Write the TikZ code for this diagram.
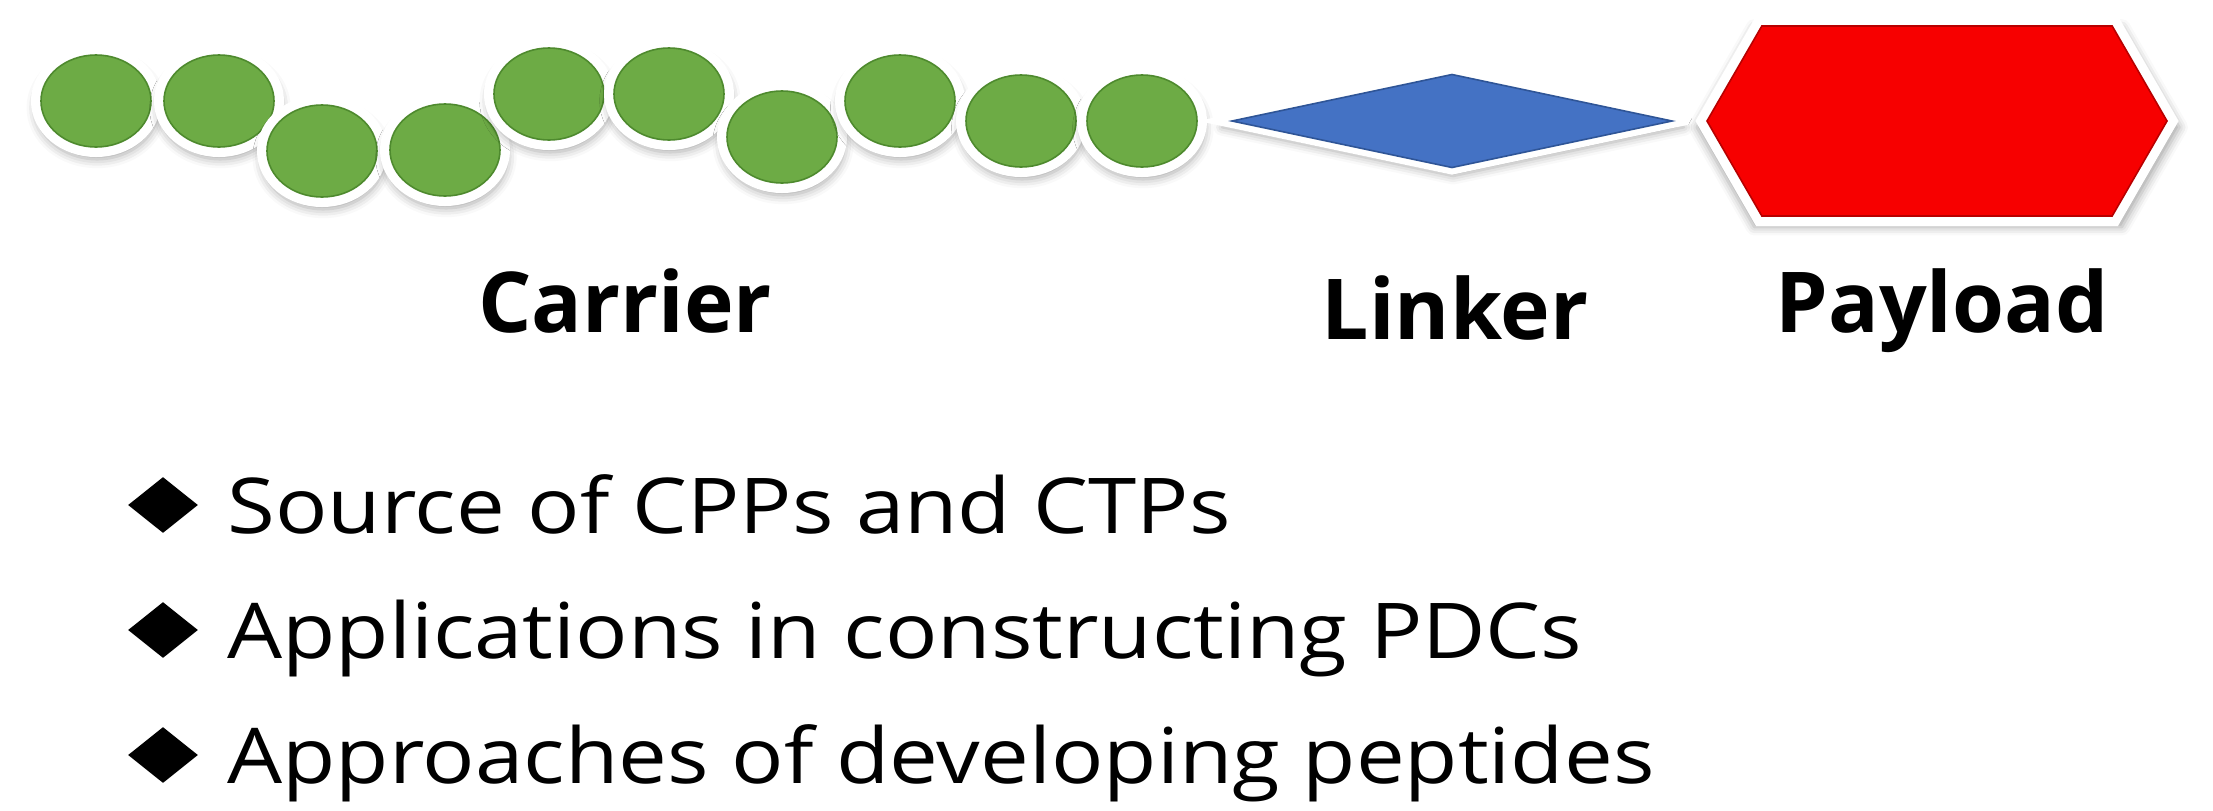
\documentclass[tikz,border=0pt]{standalone}
\usepackage{fontspec}
\setmainfont{Open Sans}
\newfontfamily\topicfont[FakeStretch=1.13]{Open Sans}
\usetikzlibrary{shapes.geometric,shapes.symbols,positioning,shadows.blur}

\begin{document}
\begin{tikzpicture}[x=0.5pt,y=-0.5pt]
  % Colors
    \definecolor{beadgreen}{HTML}{6DAB45}
    \definecolor{beaddark}{HTML}{4E8A2E}
    \definecolor{linkerblue}{HTML}{4472C4}
    \definecolor{linkerdark}{HTML}{2F5597}
    \definecolor{payloadred}{HTML}{F70000}
    \definecolor{payloaddark}{HTML}{B80000}

  % Styles
    \tikzstyle{soft}=[blur shadow={shadow xshift=0.5pt, shadow yshift=-3pt,
      shadow blur radius=4pt, shadow opacity=35, shadow scale=1.12}]
    \tikzstyle{bead}=[ellipse, inner sep=0pt, outer sep=0pt,
      minimum width=55pt, minimum height=46pt, soft,
      preaction={draw=white, line width=10pt},
      fill=beadgreen, draw=beaddark, line width=0.8pt]
    \tikzstyle{linker}=[diamond, inner sep=0pt, outer sep=0pt,
      minimum width=220pt, minimum height=46.5pt,
      blur shadow={shadow xshift=0.5pt, shadow yshift=-3pt, shadow blur radius=4pt,
        shadow opacity=35, shadow scale=1.05},
      preaction={draw=white, line width=7pt, line join=miter},
      fill=linkerblue, draw=linkerdark, line width=0.8pt]
    \tikzstyle{payload}=[signal, signal to=east and west, signal pointer angle=120,
      inner sep=0pt, outer sep=0pt, minimum width=230pt, minimum height=95pt,
      blur shadow={shadow xshift=0.5pt, shadow yshift=-3pt, shadow blur radius=4pt,
        shadow opacity=35, shadow scale=1.05},
      preaction={draw=white, line width=10pt, line join=miter},
      fill=payloadred, draw=payloaddark, line width=0.8pt]
    \tikzstyle{tag}=[font=\fontsize{42}{50}\selectfont\bfseries, anchor=base, inner sep=0pt]
    \tikzstyle{bullet}=[diamond, fill=black, inner sep=0pt,
      minimum width=35pt, minimum height=28pt]
    \tikzstyle{item}=[font=\topicfont\fontsize{38.5}{46}\selectfont, anchor=base west, inner sep=0pt]

  % The graphic
    \useasboundingbox (0,0) rectangle (2213,810);

    % carrier beads
    \foreach \i/\x/\y in {1/96/101, 2/219/101, 3/322/151, 4/445/150, 5/549/94,
                          6/669/94, 7/782/137, 8/900/101, 9/1021/121, 10/1142/121}
      \node[bead] (c\i) at (\x,\y) {};

    \node[linker, right=17.5pt of c10] (linker) {};
    \node[payload, right=17.5pt of linker] (payload) {};

    \node[tag] (carriertag) at (625,332) {Carrier};
    \node[tag] (linkertag) at (1455,339) {Linker};
    \node[tag] (payloadtag) at (1942,332) {Payload};

    % topics
    \foreach \i/\y/\txt in {1/533/Source of CPPs and CTPs,
                            2/658/Applications in constructing PDCs,
                            3/783/Approaches of developing peptides} {
      \node[bullet] (b\i) at (163,\y-28) {};
      \node[item] (t\i) at (227,\y) {\txt};
    }
\end{tikzpicture}
\end{document}
